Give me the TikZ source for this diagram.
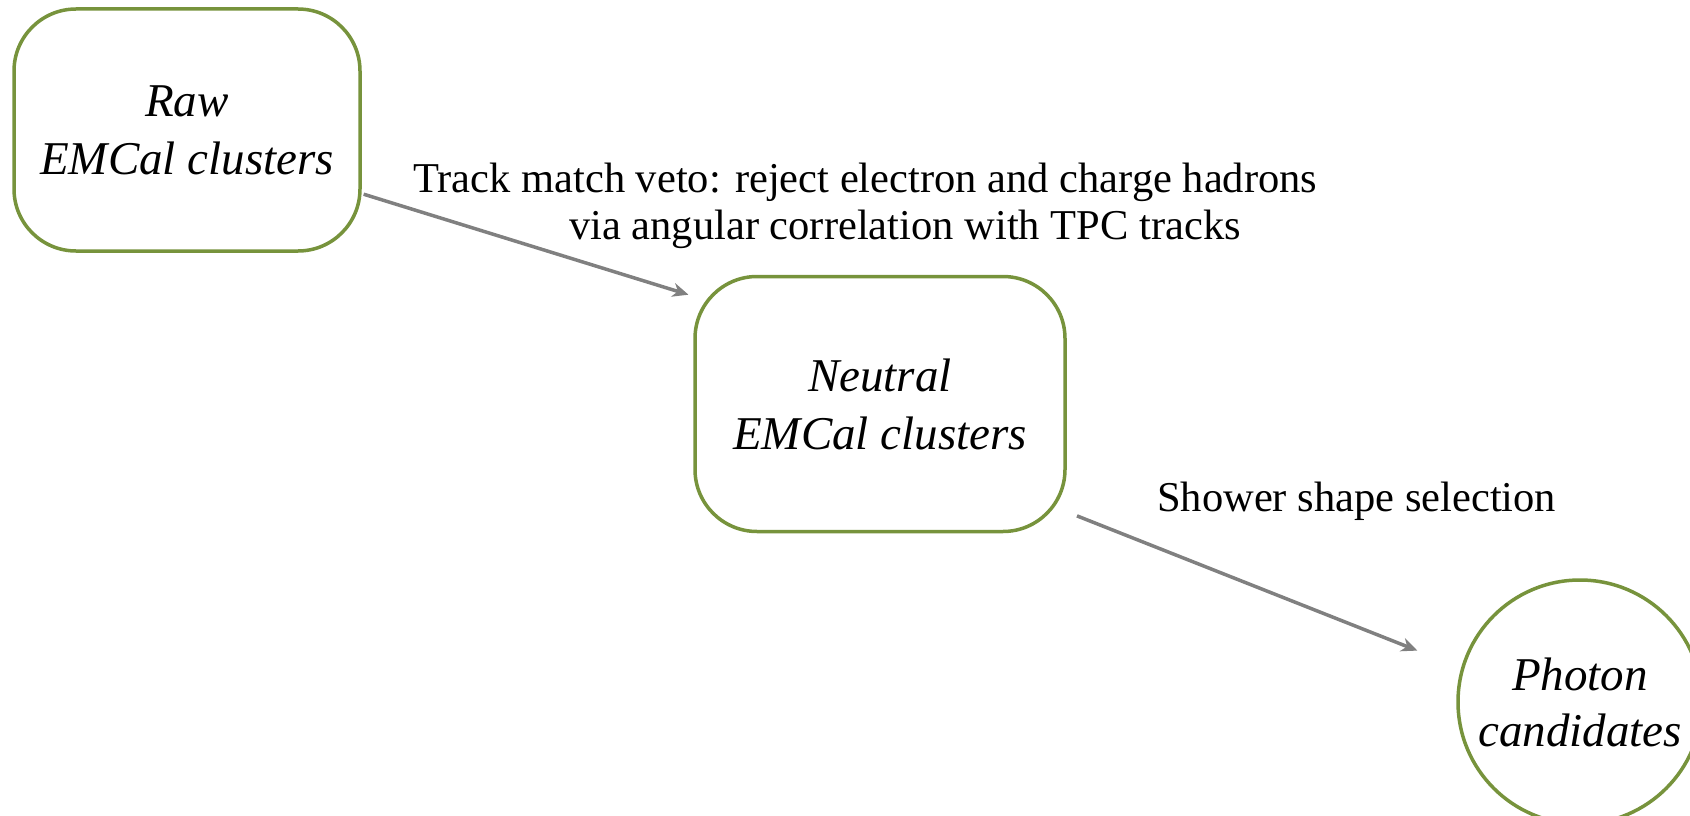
\documentclass[tikz,border=0pt]{standalone}
\usepackage{fontspec}
\setmainfont{Liberation Serif}
\usetikzlibrary{arrows.meta}
\definecolor{boxgreen}{RGB}{119,147,60}
\definecolor{arrgray}{RGB}{128,128,128}
\tikzset{
  stagebox/.style={draw=boxgreen, line width=3.5pt, fill=white, rounded corners=62pt,
    inner sep=0pt, align=center, font=\fontsize{47}{58}\selectfont\itshape},
  stagecirc/.style={draw=boxgreen, line width=3.5pt, fill=white, circle,
    inner sep=0pt, align=center, font=\fontsize{47}{56}\selectfont\itshape},
  flow/.style={draw=arrgray, line width=3.5pt, -{Stealth[length=16pt,width=14pt,inset=5pt]}},
  note/.style={inner sep=0pt, anchor=base west, font=\fontsize{42.5}{47}\selectfont}
}
\begin{document}
\begin{tikzpicture}[x=1pt,y=-1pt]
\useasboundingbox (0,0) rectangle (1690,816);
\node[stagebox, minimum width=346pt, minimum height=242pt] (raw) at (187,130) {Raw\\EMCal clusters};
\node[stagebox, minimum width=370pt, minimum height=255pt] (neutral) at (880,404) {Neutral\\EMCal clusters};
\node[stagecirc, minimum size=244pt] (photon) at (1580,702) {Photon\\candidates};
\node[note] (lab1a) at (413,192) {Track match veto: reject electron and charge hadrons};
\node[note] (lab1b) at (569,239) {via angular correlation with TPC tracks};
\node[note] (lab2) at (1157,511) {Shower shape selection};
\draw[flow, shorten >=5pt, shorten <=2pt] (raw.-20) -- (neutral.150);
\draw[flow, shorten <=11pt, shorten >=47pt] (neutral.-30) -- (photon.164);
\end{tikzpicture}
\end{document}
